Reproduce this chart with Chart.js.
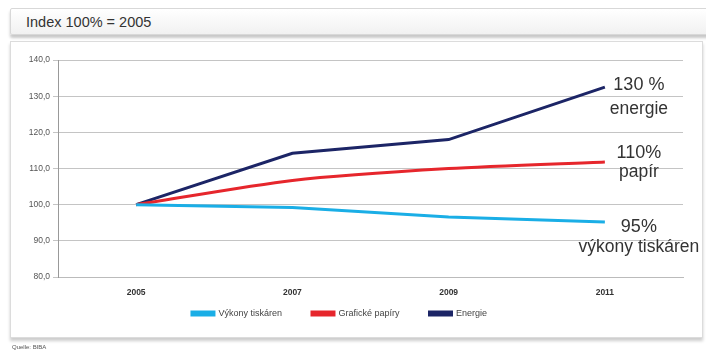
<!DOCTYPE html>
<html>
<head>
<meta charset="utf-8">
<script src="https://cdn.jsdelivr.net/npm/chart.js@4"></script>
<style>
  html, body { margin: 0; padding: 0; background: #fff; }
  body { width: 706px; height: 352px; position: relative; overflow: hidden; font-family: Arial, "Liberation Sans", sans-serif; }
  #titleBox {
    position: absolute; left: 10px; top: 8px; width: 710px; height: 27px;
    border: 1px solid #d8d8d8; border-radius: 2px;
    background: linear-gradient(#ffffff, #f1f1f1);
    box-shadow: 0 3px 3px rgba(0,0,0,0.22);
    font-size: 14.5px; color: #333; line-height: 26px; padding-left: 15px; box-sizing: border-box;
  }
  #panel {
    position: absolute; left: 10px; top: 41px; width: 693px; height: 297px;
    border: 1px solid #dcdcdc; box-sizing: border-box;
    box-shadow: 0 3px 3px rgba(0,0,0,0.2);
    background: #fff;
  }
  #wrap { position: absolute; left: 0; top: 0; width: 706px; height: 352px; }
  #source { position: absolute; left: 12px; top: 344px; font-size: 6px; color: #555; }
</style>
</head>
<body>
<div id="titleBox">Index 100% = 2005</div>
<div id="panel"></div>
<div id="wrap"><canvas id="c" width="706" height="352"></canvas></div>
<div id="source">Quelle: BIBA</div>
<script>
// ===== data =====
const years = ['2005', '2007', '2009', '2011'];
const vykonyTiskaren = [100, 99.2, 96.6, 95.2];
const grafickePapiry = [100, 106.7, 110.0, 111.8];
const energie = [100, 114.2, 118.0, 132.5];

const seriesNames = ['Výkony tiskáren', 'Grafické papíry', 'Energie'];
const seriesColors = ['#1aaee6', '#e6262c', '#1c2566'];

// end-of-line callouts
const callouts = [
  { series: 2, big: '130 %', small: 'energie', bigDy: 3, smallDy: 27 },
  { series: 1, big: '110%', small: 'papír', bigDy: -4, smallDy: 15 },
  { series: 0, big: '95%', small: 'výkony tiskáren', bigDy: 10, smallDy: 30 }
];

const calloutPlugin = {
  id: 'callouts',
  afterDatasetsDraw(chart) {
    const ctx = chart.ctx;
    const xs = chart.scales.x, ys = chart.scales.y;
    const last = years.length - 1;
    ctx.save();
    ctx.fillStyle = '#333';
    ctx.textAlign = 'center';
    ctx.textBaseline = 'alphabetic';
    callouts.forEach(c => {
      const v = chart.data.datasets[c.series].data[last];
      const x = xs.getPixelForValue(last) + 34;
      const y = ys.getPixelForValue(v);
      ctx.font = '18px Arial, "Liberation Sans", sans-serif';
      ctx.fillText(c.big, x, y + c.bigDy);
      ctx.font = '17.5px Arial, "Liberation Sans", sans-serif';
      ctx.fillText(c.small, x, y + c.smallDy);
    });
    ctx.restore();
  }
};

// move legend closer to the axis labels and a bit left
const legendShift = {
  id: 'legendShift',
  afterLayout(chart) {
    const l = chart.legend;
    l.top -= 22; l.bottom -= 22;
    l.left -= 12; l.right -= 12;
  }
};

const datasets = [vykonyTiskaren, grafickePapiry, energie].map((d, i) => ({
  label: seriesNames[i],
  data: d,
  borderColor: seriesColors[i],
  backgroundColor: seriesColors[i],
  borderWidth: 3,
  pointRadius: 0,
  tension: i === 1 ? 0.25 : 0
}));

new Chart(document.getElementById('c'), {
  type: 'line',
  data: { labels: years, datasets },
  plugins: [calloutPlugin, legendShift],
  options: {
    responsive: false,
    animation: false,
    layout: { padding: { left: 20, right: 23, top: 60, bottom: 2 } },
    plugins: {
      tooltip: { enabled: false },
      legend: {
        position: 'bottom',
        labels: {
          boxWidth: 22, boxHeight: 3, padding: 30,
          color: '#444',
          font: { size: 9, family: 'Arial' }
        }
      }
    },
    scales: {
      x: {
        offset: true,
        grid: { display: false, drawTicks: false, offset: true },
        border: { display: true, color: '#bbb' },
        ticks: { color: '#333', font: { size: 8.5, family: 'Arial', weight: 'bold' }, padding: 11 },
        afterFit(s) { s.height = 24; }
      },
      y: {
        min: 80, max: 140,
        ticks: {
          stepSize: 10, color: '#555', padding: 3,
          font: { size: 8.5, family: 'Arial' },
          callback: v => v.toFixed(1).replace('.', ',')
        },
        grid: { color: '#c4c4c4', tickLength: 5 },
        border: { color: '#999' },
        afterFit(s) { s.width = 38; }
      }
    }
  }
});
</script>
</body>
</html>
